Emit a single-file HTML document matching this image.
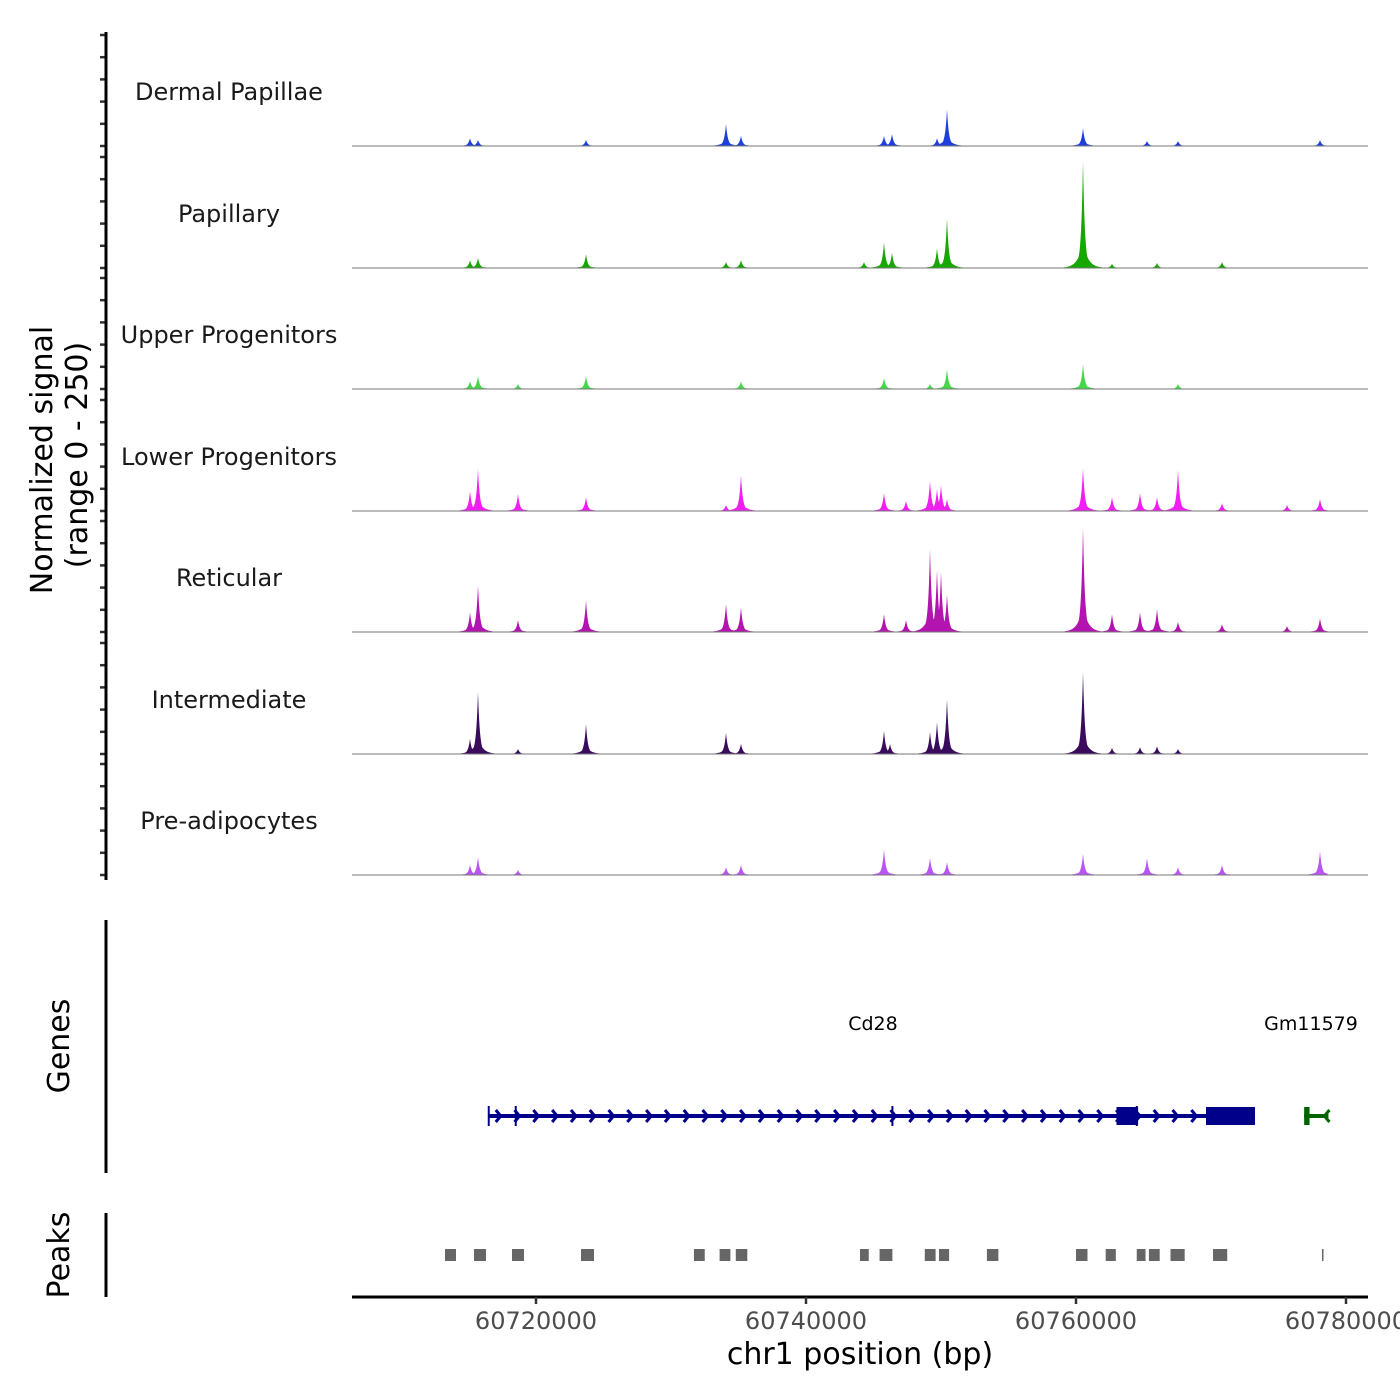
<!DOCTYPE html>
<html><head><meta charset="utf-8">
<style>
html,body{margin:0;padding:0;background:#fff;}
svg{display:block;font-family:"DejaVu Sans","Liberation Sans",sans-serif;}
</style></head>
<body>
<svg id="chart" width="1400" height="1400" viewBox="0 0 1400 1400" xmlns="http://www.w3.org/2000/svg">
<rect width="1400" height="1400" fill="#fff"/>
<g id="tracks"></g>
<g id="genes"></g>
<g id="peaks"></g>
<g id="axes"></g>
</svg>
<script>
// ---- data ----
const trackNames = ["Dermal Papillae","Papillary","Upper Progenitors","Lower Progenitors","Reticular","Intermediate","Pre-adipocytes"];
const trackColors = ["#1f3fdc","#16a800","#45d64b","#f01ef0","#b313ae","#3a0b5c","#b955f2"];
const dpPos = [60715111,60715704,60723704,60734074,60735185,60745778,60746370,60749704,60750444,60760519,60765260,60767556,60778074];
const dpVal = [17,13,13,48,22,22,26,17,80,39,11,11,13];
const papPos = [60715111,60715704,60723704,60734074,60735185,60744296,60745778,60746370,60749704,60750444,60760519,60762667,60766000,60770815];
const papVal = [17,22,30,13,17,13,56,33,43,108,232,9,11,13];
const upPos = [60715111,60715704,60718667,60723704,60735185,60745778,60749185,60750444,60760519,60767556];
const upVal = [17,28,11,28,17,24,11,43,54,11];
const lowPos = [60715111,60715704,60718667,60723704,60734074,60735185,60745778,60747407,60749185,60749704,60750000,60750444,60760519,60762667,60764741,60766000,60767556,60770815,60775630,60778074];
const lowVal = [43,91,37,30,13,78,39,22,65,48,56,26,93,30,39,30,89,17,13,26];
const retPos = [60715111,60715704,60718667,60723704,60734074,60735185,60745778,60747407,60749185,60749704,60750000,60750444,60760519,60762667,60764741,60766000,60767556,60770815,60775630,60778074];
const retVal = [43,102,26,69,61,54,39,26,180,135,130,82,228,39,43,50,22,17,13,30];
const intPos = [60715111,60715704,60718667,60723704,60734074,60735185,60745778,60746222,60749185,60749704,60750444,60760519,60762667,60764741,60766000,60767556];
const intVal = [33,135,11,65,46,22,50,22,48,69,119,178,13,15,17,11];
const prePos = [60715111,60715704,60718667,60734074,60735185,60745778,60749185,60750444,60760519,60765260,60767556,60770815,60778074];
const preVal = [22,39,11,17,22,56,37,28,46,37,17,22,52];
const trackPos = [dpPos,papPos,upPos,lowPos,retPos,intPos,prePos];
const trackVal = [dpVal,papVal,upVal,lowVal,retVal,intVal,preVal];

const xTicks = [60720000,60740000,60760000,60780000];
const xTickLabels = ["60720000","60740000","60760000","60780000"];
const peakStart = [60713260,60715407,60718222,60723333,60731700,60733600,60734800,60744000,60745450,60748800,60749850,60753400,60760000,60762200,60764500,60765400,60767000,60770150,60778222];
const peakEnd   = [60714074,60716296,60719111,60724296,60732500,60734400,60735650,60744650,60746400,60749600,60750600,60754250,60760850,60762950,60765150,60766200,60768050,60771200,60778300];
const geneName = ["Cd28","Gm11579"];
const geneStart = [60716500,60776900];
const geneEnd = [60773100,60778700];
const exonStart = [60763000,60769630,60776900];
const exonEnd = [60764600,60773260,60777300];

// ---- scales ----
const X0 = 536, BP0 = 60720000, PXBP = 0.0135;
const xs = bp => X0 + (bp - BP0) * PXBP;
const plotL = 352, plotR = 1368;
const baselines = [146,268,389,511,632,754,875];
const yPx = v => v * 115 / 250;
const NS = "http://www.w3.org/2000/svg";
function mk(tag, attrs, parent){const e=document.createElementNS(NS,tag);for(const k in attrs)e.setAttribute(k,attrs[k]);parent.appendChild(e);return e;}

const gT = document.getElementById('tracks');
trackNames.forEach((name,i)=>{
  const base = baselines[i];
  const px = trackPos[i].map(xs), vals = trackVal[i];
  let d = `M${plotL},${base}`;
  const xa = Math.min(...px)-20, xb = Math.max(...px)+8;
  for(let x=Math.floor(xa); x<=xb; x+=0.5){
    let v=0;
    px.forEach((p,k)=>{const dx=Math.abs(x-p);v=Math.max(v,vals[k]*Math.exp(-dx/1.9), vals[k]*0.25*Math.exp(-dx/5));});
    d += ` L${x},${(base-yPx(v)).toFixed(1)}`;
  }
  d += ` L${xb},${base} Z`;
  const area = mk('path',{d:d,fill:trackColors[i]},gT);
  
  
  const bl = mk('line',{x1:plotL,x2:plotR,y1:base,y2:base,stroke:'#777','stroke-width':1},gT);
  
  
  const lab = mk('text',{x:229,y:base-46,'text-anchor':'middle','font-size':24,fill:'#1a1a1a'},gT);
  lab.textContent = name;
  
  
  for(let k=0;k<6;k++){
    const ty = base - k*22.2;
    const t = mk('line',{x1:100,x2:106,y1:ty,y2:ty,stroke:'#333','stroke-width':2.5},gT);
    
    
  }
});

// genes
const gG = document.getElementById('genes');
const gcol = ["#00008b","#006400"];
geneName.forEach((g,i)=>{
  const x1=xs(geneStart[i]), x2=xs(geneEnd[i]), y=1116;
  const ln = mk('line',{x1:x1,x2:x2,y1:y,y2:y,stroke:gcol[i],'stroke-width':4},gG);
  
  
  if(i===0){
    for(let x=x1+10; x<x2-6; x+=18.8){
      mk('path',{d:`M${x-3},${y-6} L${x+2},${y} L${x-3},${y+6}`,fill:'none',stroke:gcol[i],'stroke-width':3},gG);
    }
  } else {
    mk('path',{d:`M${x2+1},${y-6} L${x2-4},${y} L${x2+1},${y+6}`,fill:'none',stroke:gcol[i],'stroke-width':3},gG);
  }
  const lab = mk('text',{x:i===0?873:1311,y:1030,'text-anchor':'middle','font-size':19,fill:'#000'},gG);
  lab.textContent = g;
  
  
});
[60716500,60718500,60746400,60764500].forEach(bp=>mk('line',{x1:xs(bp),x2:xs(bp),y1:1106,y2:1126,stroke:'#00008b','stroke-width':2},gG));
exonStart.forEach((s,k)=>{
  const r = mk('rect',{x:xs(s),y:1107,width:xs(exonEnd[k])-xs(s),height:18,fill:k<2?'#00008b':'#006400'},gG);
  
  
});

// peaks
const gP = document.getElementById('peaks');
peakStart.forEach((s,k)=>{
  const r = mk('rect',{x:xs(s),y:1249,width:Math.max(1.5,xs(peakEnd[k])-xs(s)),height:12,fill:'#666'},gP);
  
  
});

// axes
const gA = document.getElementById('axes');
mk('line',{x1:106,x2:106,y1:32,y2:880,stroke:'#000','stroke-width':3},gA);
mk('line',{x1:106,x2:106,y1:920,y2:1173,stroke:'#000','stroke-width':3},gA);
mk('line',{x1:106,x2:106,y1:1213,y2:1297,stroke:'#000','stroke-width':3},gA);
const xa = mk('line',{x1:plotL,x2:plotR,y1:1297,y2:1297,stroke:'#000','stroke-width':3},gA);


xTicks.forEach((t,k)=>{
  mk('line',{x1:xs(t),x2:xs(t),y1:1297,y2:1304,stroke:'#333','stroke-width':2.5},gA);
  const l = mk('text',{x:xs(t),y:1329,'text-anchor':'middle','font-size':24,fill:'#4d4d4d'},gA);
  l.textContent = xTickLabels[k];
  
  
});
function txt(s,attrs,name){const e=mk('text',attrs,gA);e.textContent=s;return e;}
txt("chr1 position (bp)",{x:860,y:1364,'text-anchor':'middle','font-size':30,fill:'#000'},'x-axis-title');
txt("Normalized signal",{x:0,y:0,'text-anchor':'middle','font-size':30,fill:'#000',transform:'translate(52,460) rotate(-90)'},'y-axis-title');
txt("(range 0 - 250)",{x:0,y:0,'text-anchor':'middle','font-size':30,fill:'#000',transform:'translate(87,455) rotate(-90)'},'y-axis-range');
txt("Genes",{x:0,y:0,'text-anchor':'middle','font-size':30,fill:'#000',transform:'translate(69,1046) rotate(-90)'},'genes-axis-title');
txt("Peaks",{x:0,y:0,'text-anchor':'middle','font-size':30,fill:'#000',transform:'translate(69,1255) rotate(-90)'},'peaks-axis-title');
</script>
</body></html>
